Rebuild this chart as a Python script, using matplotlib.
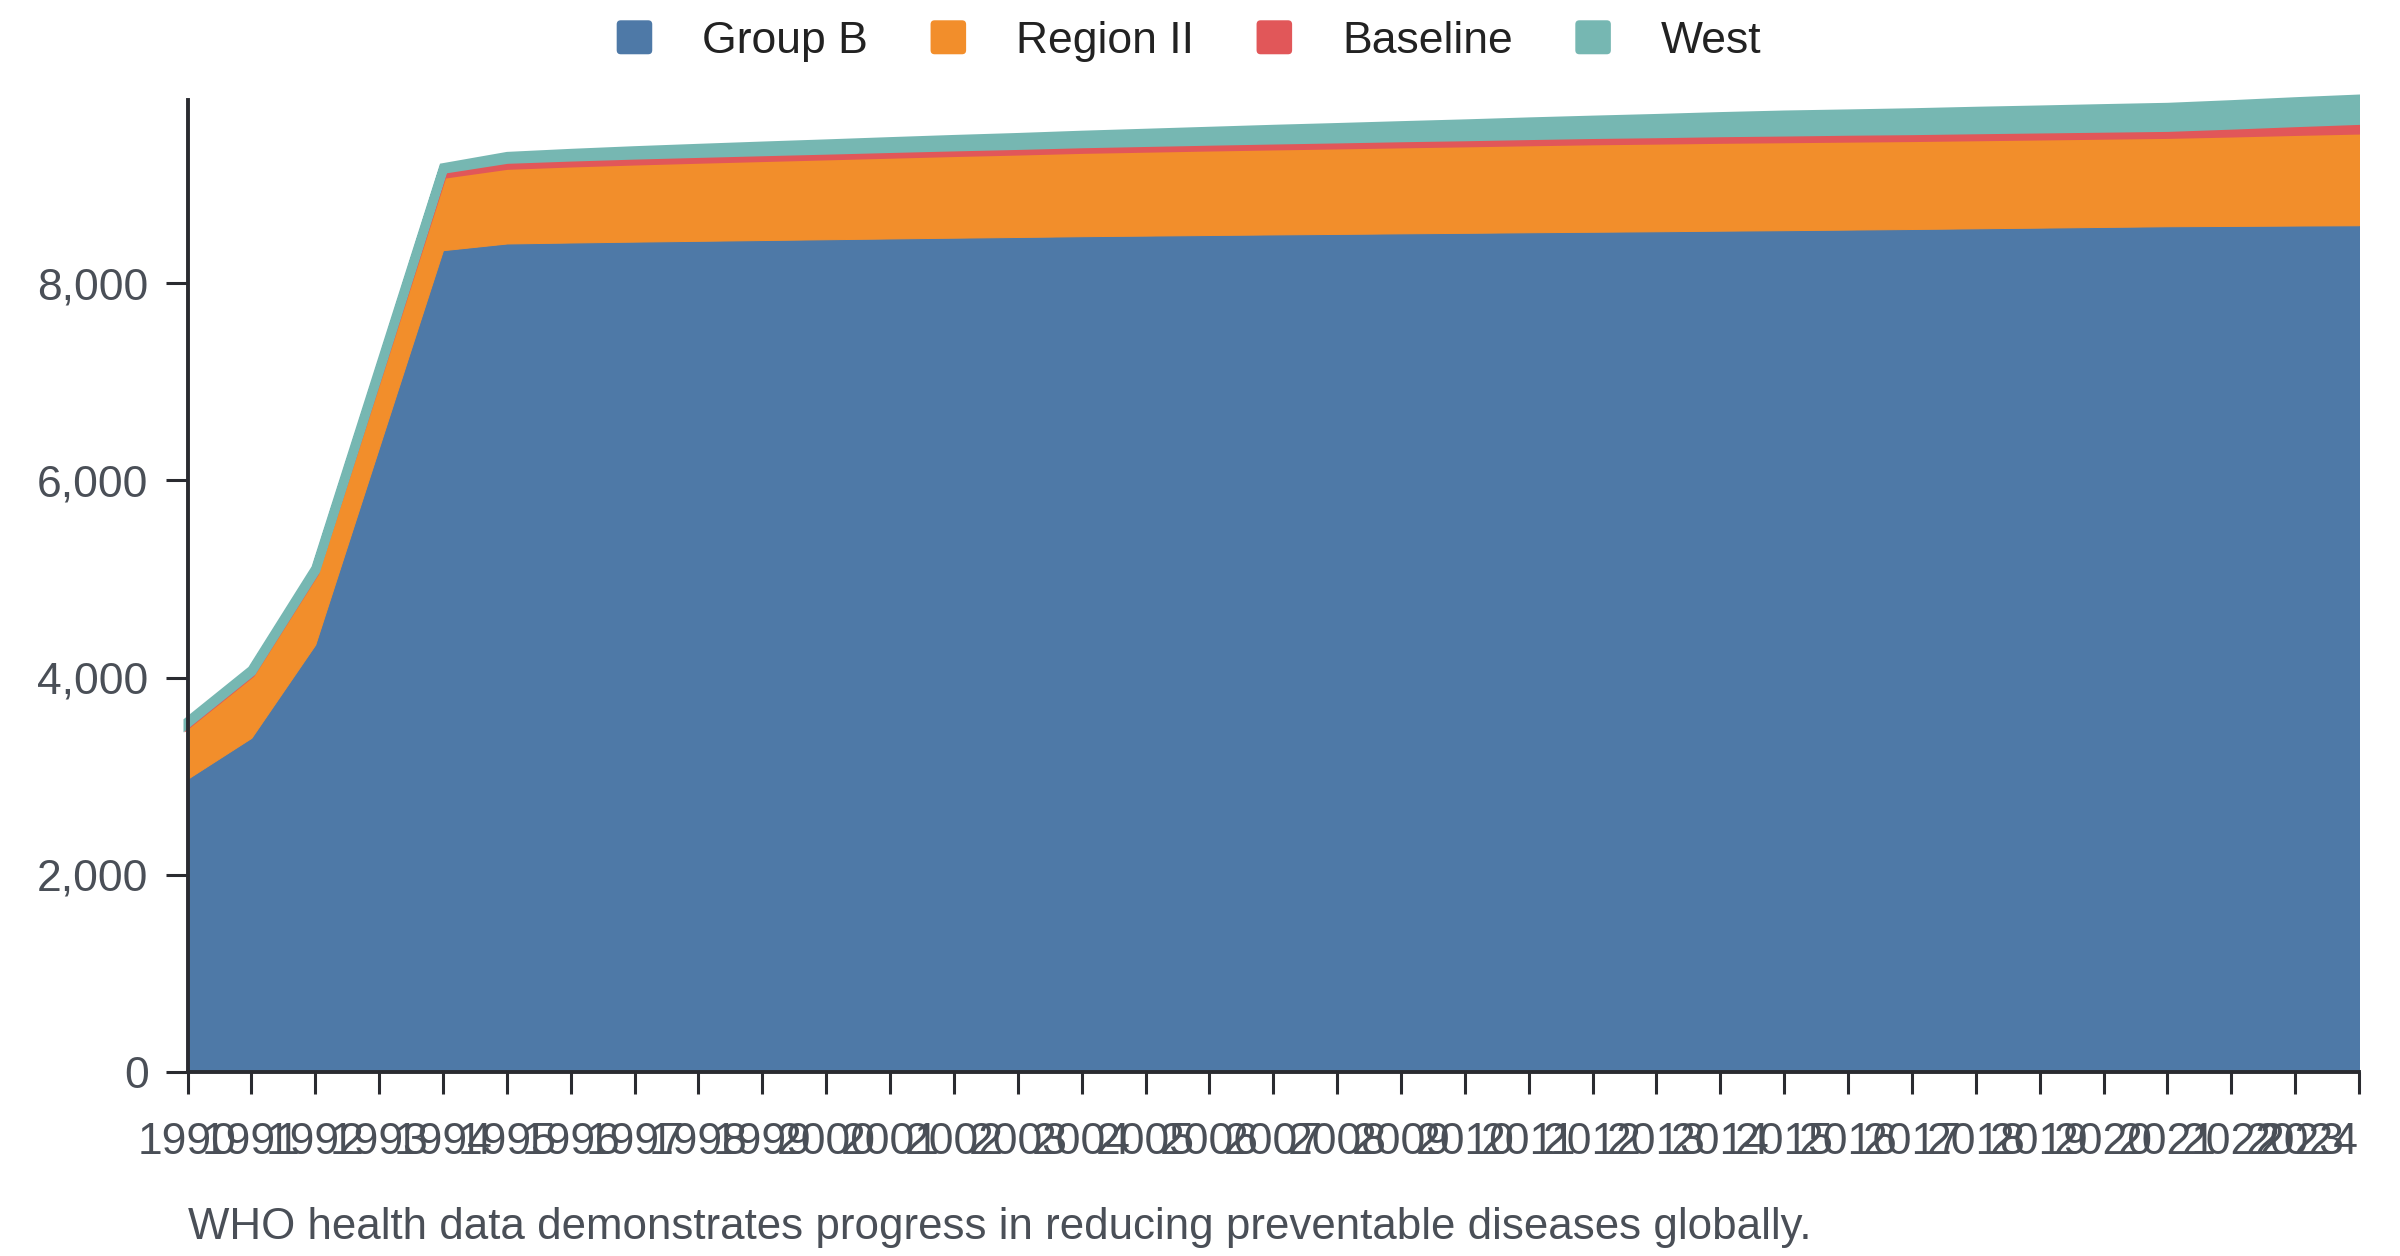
import matplotlib
matplotlib.use("Agg")
import matplotlib.pyplot as plt
from matplotlib.patches import FancyBboxPatch, Patch, Rectangle
from matplotlib.legend_handler import HandlerPatch
from matplotlib.ticker import FuncFormatter

plt.rcParams['font.family'] = ['Liberation Sans', 'DejaVu Sans']

years = list(range(1990, 2025))
series_names = ["Group B", "Region II", "Baseline", "West"]
group_b = [2972, 3388, 4334, 6335, 8336, 8404, 8414, 8423, 8431, 8439, 8447, 8455, 8463, 8470,
           8478, 8484, 8490, 8496, 8501, 8507, 8512, 8518, 8523, 8528, 8534, 8539, 8545, 8551,
           8558, 8565, 8572, 8579, 8582, 8586, 8589]
region_ii = [546, 650, 728, 735, 763, 786, 800, 811, 821, 830, 839, 848, 857, 865, 874, 880, 886,
             891, 896, 901, 906, 911, 916, 918, 920, 921, 921, 921, 922, 923, 924, 925, 936, 948, 959]
baseline = [25, 25, 28, 45, 63, 73, 72, 72, 71, 71, 70, 70, 69, 69, 69, 70, 71, 72, 73, 74, 74, 75,
            76, 77, 79, 80, 82, 82, 83, 83, 83, 83, 92, 101, 110]
west = [16, 18, 22, 30, 17, 30, 38, 45, 52, 58, 64, 70, 76, 81, 87, 94, 101, 109, 116, 123, 131,
        139, 146, 155, 164, 173, 176, 182, 188, 193, 199, 204, 208, 213, 217]
colors = ["#4e79a7", "#f28e2b", "#e15759", "#76b7b2"]
y_ticks = [0, 2000, 4000, 6000, 8000]
caption = "WHO health data demonstrates progress in reducing preventable diseases globally."

W, H, DPI = 2400, 1256, 200
fig = plt.figure(figsize=(W / DPI, H / DPI), dpi=DPI)
ax = fig.add_axes([187.5 / W, 1 - 1071.7 / H, (2359 - 187.5) / W, (1071.7 - 100) / H])

polys = ax.stackplot(years, group_b, region_ii, baseline, west, colors=colors)
edge_widths = [0.36, 0.36, 2.4, 3.24]
clip_rect = Rectangle((-0.004, -0.01), 1.004, 1.1, transform=ax.transAxes,
                      facecolor='none', edgecolor='none')
ax.add_patch(clip_rect)
for p, c, lw in zip(polys, colors, edge_widths):
    p.set_edgecolor(c)
    p.set_linewidth(lw)
    p.set_joinstyle('miter')
    p.set_clip_path(clip_rect)

ax.set_xlim(years[0], years[-1])
ax.set_ylim(0, 9860)
ax.set_xticks(years)
ax.set_xticklabels([str(y) for y in years])
ax.set_yticks(y_ticks)
ax.yaxis.set_major_formatter(FuncFormatter(lambda v, p: f"{int(v):,}"))

axis_col = "#2a2b30"
text_col = "#4a4f57"
for s in ["top", "right"]:
    ax.spines[s].set_visible(False)
for s in ["left", "bottom"]:
    ax.spines[s].set_color(axis_col)
    ax.spines[s].set_linewidth(1.4)
    ax.spines[s].set_zorder(5)
ax.tick_params(axis='both', colors=axis_col, length=8, width=1.1, labelsize=16,
               labelcolor=text_col)
ax.tick_params(axis='x', pad=10)
ax.tick_params(axis='y', pad=6)
ax.get_xticklabels()[-1].set_horizontalalignment('right')
ax.set_facecolor("white")


class RoundHandler(HandlerPatch):
    def create_artists(self, legend, orig_handle, xdescent, ydescent, width, height,
                       fontsize, trans):
        p = FancyBboxPatch((-xdescent, -ydescent), width, height,
                           boxstyle="round,pad=0,rounding_size=%f" % (height * 0.12),
                           facecolor=orig_handle.get_facecolor(), edgecolor='none',
                           transform=trans)
        return [p]


handles = [Patch(facecolor=c, label=n) for c, n in zip(colors, series_names)]
leg = fig.legend(handles=handles, loc='center', bbox_to_anchor=(0.4955, 1 - 41 / H), ncol=4,
                 frameon=False, fontsize=16, handlelength=0.8, handleheight=0.8,
                 handletextpad=1.13, columnspacing=1.4,
                 handler_map={Patch: RoundHandler()})
for t in leg.get_texts():
    t.set_color("#222222")

fig.text(187.5 / W, 1 - 1228 / H, caption, fontsize=15.8, color=text_col, ha='left', va='center')

fig.savefig("out.png", dpi=DPI, facecolor="white")
